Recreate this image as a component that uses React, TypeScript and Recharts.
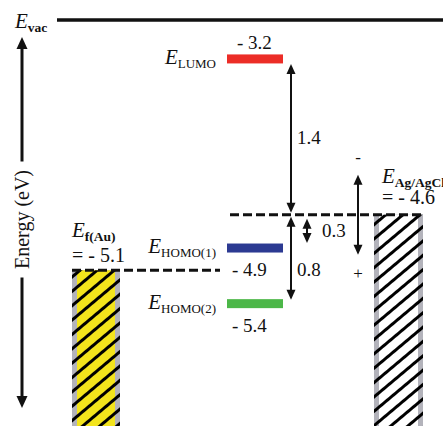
import React from 'react'
import {
  ComposedChart,
  XAxis,
  YAxis,
  Scatter,
  ReferenceLine,
  ReferenceArea,
  ReferenceDot,
} from 'recharts'

// molecular levels (eV)
const levelNames = ['LUMO', 'HOMO(1)', 'HOMO(2)']
const levelEnergies = [-3.2, -4.9, -5.4]
// electrodes (eV)
const electrodeNames = ['f(Au)', 'Ag/AgCl']
const electrodeEnergies = [-5.1, -4.6]
const vacName = 'vac'
const axisTitle = 'Energy (eV)'

const levelColors = ['#ec2d27', '#2c3a92', '#4cb748']
const valueAbove = [true, false, false]

const INK = '#111'
const SERIF = '"Liberation Serif", "Times New Roman", serif'
const W = 443
const H = 426
// schematic scale, vacuum level sits on the top edge
const Y_DOMAIN: [number, number] = [-6.5, -2.85]
const X_DOMAIN: [number, number] = [0, W]

// column layout in x-axis units
const AU = { x1: 72, x2: 120 }
const MOL = { x1: 227, x2: 283 }
const AG = { x1: 374, x2: 423 }
const AXIS_X = 22
const GAP_X = 291
const GAP_X2 = 307
const BIAS_X = 358

const fmt = (v: number) => `- ${Math.abs(v).toFixed(1)}`

const [lumo, homo1, homo2] = levelEnergies
const [auLevel, agLevel] = electrodeEnergies

const levels = levelNames.map((name, idx) => ({
  x: (MOL.x1 + MOL.x2) / 2,
  y: levelEnergies[idx],
  name,
  idx,
}))

function Sym({ x, y, sub, bold, anchor }: any) {
  return (
    <text x={x} y={y} textAnchor={anchor || 'start'} fontFamily={SERIF} fill={INK}>
      <tspan fontStyle="italic" fontSize={21}>E</tspan>
      <tspan fontSize={bold ? 13.5 : 13} fontWeight={bold ? 700 : 400} dy={4}>{sub}</tspan>
    </text>
  )
}

function head(x: number, tip: number, dir: number, w = 4.5, len = 10) {
  const base = tip - dir * len
  return <polygon points={`${x},${tip} ${x - w},${base} ${x + w},${base}`} fill={INK} />
}

const LevelShape = (props: any) => {
  const { cx, cy, payload } = props
  const i = payload.idx
  const half = (MOL.x2 - MOL.x1) / 2
  return (
    <g>
      <rect x={cx - half} y={cy - 4.5} width={half * 2} height={9} fill={levelColors[i]} />
      <Sym x={cx - half - 11} y={cy + 5} sub={payload.name} anchor="end" />
      <text
        x={cx - half + (valueAbove[i] ? 10 : 5)}
        y={valueAbove[i] ? cy - 10 : cy + 28}
        fontFamily={SERIF}
        fontSize={19}
        fill={INK}
      >
        {fmt(payload.y)}
      </text>
    </g>
  )
}

const ElectrodeShape = (fill: string) => (p: any) => {
  const { x, y, width, height } = p
  return (
    <g>
      <rect x={x} y={y} width={width} height={height} fill="#b3b3bb" />
      <rect x={x + 5} y={y} width={width - 10} height={height} fill={fill} />
      <rect x={x} y={y} width={width} height={height} fill="url(#hatch)" />
    </g>
  )
}

const EnergyAxisShape = (p: any) => {
  const x = p.x1
  const top = Math.min(p.y1, p.y2) + 17
  const bot = Math.max(p.y1, p.y2) - 18
  const mid = (top + bot) / 2 - 3
  return (
    <g>
      <line x1={x} y1={top + 8} x2={x} y2={mid - 58} stroke={INK} strokeWidth={3} />
      <line x1={x} y1={mid + 58} x2={x} y2={bot - 8} stroke={INK} strokeWidth={3} />
      {head(x, top, -1, 5.5, 12)}
      {head(x, bot, 1, 5.5, 12)}
      <text
        x={x + 7}
        y={mid}
        transform={`rotate(-90 ${x + 7} ${mid})`}
        textAnchor="middle"
        fontFamily={SERIF}
        fontSize={20}
        fill={INK}
      >
        {axisTitle}
      </text>
    </g>
  )
}

const VacShape = (p: any) => (
  <g>
    <line x1={p.x1} y1={p.y1} x2={p.x2} y2={p.y2} stroke={INK} strokeWidth={3.5} />
    <Sym x={p.x1 - 42} y={p.y1 + 8} sub={vacName} bold />
  </g>
)

const gapArrow = (upIn: number, lowIn: number, text: string, dx: number, dy: number) => (p: any) => {
  const x = p.x1
  const a = Math.min(p.y1, p.y2) + upIn
  const b = Math.max(p.y1, p.y2) - lowIn
  return (
    <g>
      <line x1={x} y1={a + 8} x2={x} y2={b - 8} stroke={INK} strokeWidth={2} />
      {head(x, a, -1)}
      {head(x, b, 1)}
      <text x={x + dx} y={(a + b) / 2 + dy} fontFamily={SERIF} fontSize={19} fill={INK}>
        {text}
      </text>
    </g>
  )
}

const BiasShape = (p: any) => {
  const { cx, cy } = p
  return (
    <g>
      <line x1={cx} y1={cy - 32} x2={cx} y2={cy + 32} stroke={INK} strokeWidth={2} />
      {head(cx, cy - 40, -1)}
      {head(cx, cy + 40, 1)}
      <text x={cx} y={cy - 52} textAnchor="middle" fontFamily={SERIF} fontSize={17} fill={INK}>-</text>
      <text x={cx} y={cy + 64} textAnchor="middle" fontFamily={SERIF} fontSize={17} fill={INK}>+</text>
    </g>
  )
}

const ElectrodeLabel = (name: string, value: number, dx: number, eDy: number, vDy: number) => (p: any) => (
  <g>
    <Sym x={p.cx + dx} y={p.cy + eDy} sub={name} bold />
    <text x={p.cx + dx} y={p.cy + vDy} fontFamily={SERIF} fontSize={20} fill={INK}>
      {`= ${fmt(value)}`}
    </text>
  </g>
)

const dash = { stroke: INK, strokeWidth: 3, strokeDasharray: '9 4' }

export default function App() {
  const yTop = Y_DOMAIN[1]
  const yBot = Y_DOMAIN[0]
  return (
    <div style={{ width: W, height: H, background: '#fff' }}>
      <style>{'body{margin:0}'}</style>
      <ComposedChart width={W} height={H} margin={{ top: 20, right: 0, bottom: 0, left: 0 }}>
        <defs>
          <pattern
            id="hatch"
            patternUnits="userSpaceOnUse"
            width={11}
            height={11}
            patternTransform="rotate(-40)"
          >
            <line x1={0} y1={5.5} x2={11} y2={5.5} stroke="#000" strokeWidth={3} />
          </pattern>
        </defs>
        <XAxis type="number" dataKey="x" domain={X_DOMAIN} allowDataOverflow hide />
        <YAxis type="number" dataKey="y" domain={Y_DOMAIN} allowDataOverflow hide />

        {/* electrodes */}
        <ReferenceArea x1={AU.x1} x2={AU.x2} y1={auLevel} y2={yBot} shape={ElectrodeShape('#f3e41c')} />
        <ReferenceArea x1={AG.x1} x2={AG.x2} y1={agLevel} y2={yBot} shape={ElectrodeShape('#ffffff')} />

        {/* vacuum level + energy axis */}
        <ReferenceLine segment={[{ x: 57, y: yTop }, { x: W, y: yTop }]} shape={VacShape} />
        <ReferenceLine segment={[{ x: AXIS_X, y: yTop }, { x: AXIS_X, y: yBot }]} shape={EnergyAxisShape} />

        {/* Fermi levels */}
        <ReferenceLine segment={[{ x: AU.x1, y: auLevel }, { x: 220, y: auLevel }]} {...dash} />
        <ReferenceLine segment={[{ x: 230, y: agLevel }, { x: AG.x2, y: agLevel }]} {...dash} />

        {/* gaps */}
        <ReferenceLine
          segment={[{ x: GAP_X, y: lumo }, { x: GAP_X, y: agLevel }]}
          shape={gapArrow(5, 2, (lumo - agLevel).toFixed(1), 6, 6)}
        />
        <ReferenceLine
          segment={[{ x: GAP_X, y: agLevel }, { x: GAP_X, y: homo2 }]}
          shape={gapArrow(2, 4, (agLevel - homo2).toFixed(1), 6, 18)}
        />
        <ReferenceLine
          segment={[{ x: GAP_X2, y: agLevel }, { x: GAP_X2, y: homo1 }]}
          shape={gapArrow(4, 5, (agLevel - homo1).toFixed(1), 15, 6)}
        />
        <ReferenceDot x={BIAS_X} y={agLevel} r={0} shape={BiasShape} />

        {/* electrode labels */}
        <ReferenceDot x={AU.x1} y={auLevel} r={0} shape={ElectrodeLabel(electrodeNames[0], auLevel, 0, -33, -8)} />
        <ReferenceDot x={AG.x1} y={agLevel} r={0} shape={ElectrodeLabel(electrodeNames[1], agLevel, 8, -32, -11)} />

        <Scatter data={levels} dataKey="y" shape={LevelShape} isAnimationActive={false} />
      </ComposedChart>
    </div>
  )
}
